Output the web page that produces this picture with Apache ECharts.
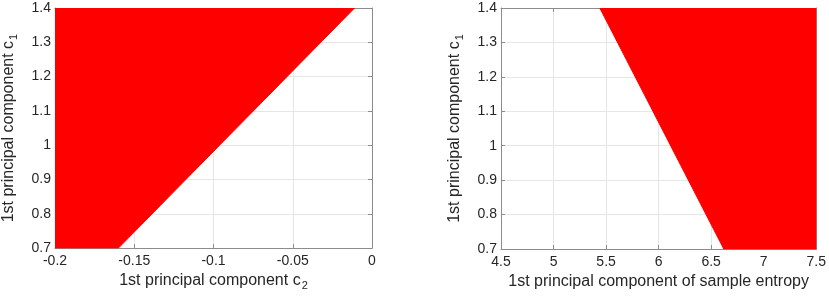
<!DOCTYPE html>
<html>
<head>
<meta charset="utf-8">
<script src="https://cdn.jsdelivr.net/npm/echarts@6/dist/echarts.min.js"></script>
<style>
  html, body { margin: 0; padding: 0; background: #fff; }
  #chart { width: 829px; height: 296px; }
</style>
</head>
<body>
<div id="chart"></div>
<script>
// boundary vertices of the red region (left panel: c2 vs c1)
const leftEdgeX = [-0.2, -0.16, -0.011];
const leftEdgeY = [0.7, 0.7, 1.4];
// boundary vertices of the red region (right panel: sample entropy vs c1)
const rightEdgeX = [5.44, 6.62, 7.5];
const rightEdgeY = [1.4, 0.7, 0.7];

const leftXTicks = { min: -0.2, max: 0, interval: 0.05 };
const rightXTicks = { min: 4.5, max: 7.5, interval: 0.5 };
const yTicks = { min: 0.7, max: 1.4, interval: 0.1 };

const FONT = '"Liberation Sans", Arial, Helvetica, sans-serif';
const AXIS_COLOR = '#8c8c8c';
const TEXT_COLOR = '#262626';
const RED = '#ff0000';

const subRich = {
  sub: { fontSize: 11, fontFamily: FONT, color: TEXT_COLOR, padding: [9, 0, 0, 1] }
};

function fmt(v) {
  return String(+v.toFixed(3));
}

function mainX(gridIndex, ticks, name) {
  return {
    type: 'value',
    gridIndex,
    position: 'bottom',
    min: ticks.min, max: ticks.max, interval: ticks.interval,
    name,
    nameLocation: 'middle',
    nameGap: 22,
    nameTextStyle: { fontSize: 16, fontFamily: FONT, color: TEXT_COLOR, rich: subRich },
    axisLine: { show: true, onZero: false, lineStyle: { color: AXIS_COLOR } },
    axisTick: { show: true, inside: true, length: 4, lineStyle: { color: AXIS_COLOR } },
    axisLabel: { fontSize: 14, fontFamily: FONT, color: TEXT_COLOR, margin: 6, formatter: fmt },
    splitLine: { show: true, lineStyle: { color: '#e6e6e6' } }
  };
}

function boxX(gridIndex, ticks) {
  return {
    type: 'value',
    gridIndex,
    position: 'top',
    min: ticks.min, max: ticks.max, interval: ticks.interval,
    axisLine: { show: true, onZero: false, lineStyle: { color: AXIS_COLOR } },
    axisTick: { show: true, inside: true, length: 4, lineStyle: { color: AXIS_COLOR } },
    axisLabel: { show: false },
    splitLine: { show: false }
  };
}

function mainY(gridIndex) {
  return {
    type: 'value',
    gridIndex,
    position: 'left',
    min: yTicks.min, max: yTicks.max, interval: yTicks.interval,
    name: '1st principal component c{sub|1}',
    nameLocation: 'middle',
    nameGap: 36,
    nameTextStyle: { fontSize: 16, fontFamily: FONT, color: TEXT_COLOR, rich: subRich },
    axisLine: { show: true, onZero: false, lineStyle: { color: AXIS_COLOR } },
    axisTick: { show: true, inside: true, length: 4, lineStyle: { color: AXIS_COLOR } },
    axisLabel: { fontSize: 14, fontFamily: FONT, color: TEXT_COLOR, margin: 4, formatter: fmt },
    splitLine: { show: true, lineStyle: { color: '#e6e6e6' } }
  };
}

function boxY(gridIndex) {
  return {
    type: 'value',
    gridIndex,
    position: 'right',
    min: yTicks.min, max: yTicks.max, interval: yTicks.interval,
    axisLine: { show: true, onZero: false, lineStyle: { color: AXIS_COLOR } },
    axisTick: { show: true, inside: true, length: 4, lineStyle: { color: AXIS_COLOR } },
    axisLabel: { show: false },
    splitLine: { show: false }
  };
}

function region(xs, ys, xIdx, yIdx) {
  return {
    type: 'line',
    xAxisIndex: xIdx,
    yAxisIndex: yIdx,
    data: xs.map((x, i) => [x, ys[i]]),
    symbol: 'none',
    silent: true,
    lineStyle: { color: RED, width: 1 },
    areaStyle: { color: RED, opacity: 1, origin: 'end' },
    z: 5
  };
}

const chart = echarts.init(document.getElementById('chart'), null, { renderer: 'canvas' });
chart.setOption({
  animation: false,
  backgroundColor: '#fff',
  grid: [
    { left: 50, top: 8, width: 322, height: 241 },
    { left: 501, top: 8, width: 317, height: 241 }
  ],
  xAxis: [
    mainX(0, leftXTicks, '1st principal component c{sub|2}'),
    boxX(0, leftXTicks),
    mainX(1, rightXTicks, '1st principal component of sample entropy'),
    boxX(1, rightXTicks)
  ],
  yAxis: [
    mainY(0),
    boxY(0),
    mainY(1),
    boxY(1)
  ],
  series: [
    region(leftEdgeX, leftEdgeY, 0, 0),
    region(rightEdgeX, rightEdgeY, 2, 2)
  ]
});
</script>
</body>
</html>
